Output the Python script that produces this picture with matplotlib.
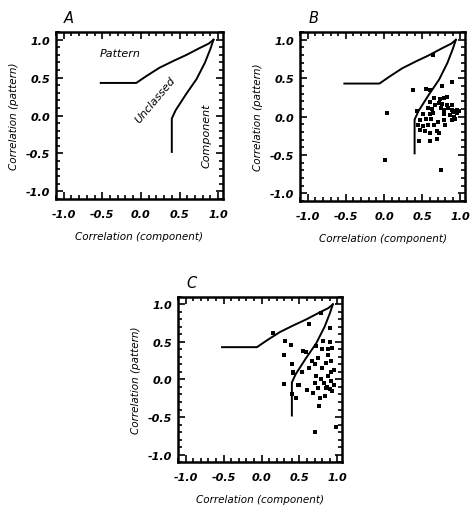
import matplotlib
matplotlib.use("Agg")
import matplotlib.pyplot as plt
from matplotlib.ticker import MultipleLocator
import numpy as np

# Boundary curves (component corr, pattern corr)
pattern_x = [-0.52, -0.06, 0.07, 0.24, 0.42, 0.59, 0.76, 0.88, 0.94]
pattern_y = [0.43, 0.43, 0.52, 0.63, 0.72, 0.80, 0.89, 0.95, 1.0]
component_x = [0.40, 0.40, 0.45, 0.52, 0.59, 0.72, 0.83, 0.90, 0.94]
component_y = [-0.48, -0.04, 0.07, 0.18, 0.29, 0.48, 0.70, 0.88, 1.0]

# Panel B data
b_x = [0.64, 0.38, 0.55, 0.60, 0.76, 0.89, 0.035, 0.006, 0.75, 0.43,
       0.66, 0.73, 0.78, 0.82, 0.60, 0.67, 0.72, 0.76, 0.83, 0.89,
       0.57, 0.63, 0.74, 0.79, 0.84, 0.89, 0.92, 0.95, 0.98,
       0.51, 0.60, 0.64, 0.79, 0.87, 0.91, 0.95, 0.90,
       0.47, 0.55, 0.62, 0.71, 0.79, 0.89, 0.93,
       0.44, 0.51, 0.57, 0.66, 0.80,
       0.47, 0.53, 0.60, 0.69, 0.72,
       0.46, 0.60, 0.69]
b_y = [0.80, 0.35, 0.36, 0.35, 0.40, 0.45, 0.05, -0.56, -0.70, 0.07,
       0.24, 0.23, 0.24, 0.25, 0.185, 0.15, 0.18, 0.16, 0.15, 0.15,
       0.11, 0.10, 0.11, 0.09, 0.11, 0.09, 0.07, 0.09, 0.07,
       0.035, 0.035, 0.04, 0.035, 0.02, 0.0, 0.04, 0.06,
       -0.04, -0.035, -0.035, -0.065, -0.045, -0.045, -0.035,
       -0.11, -0.12, -0.11, -0.11, -0.11,
       -0.17, -0.185, -0.21, -0.185, -0.21,
       -0.32, -0.32, -0.29]

# Panel C data
c_x = [0.15, 0.31, 0.385, 0.29, 0.54, 0.59, 0.63, 0.78, 0.90, 0.90, 0.81,
       0.40, 0.67, 0.41, 0.42, 0.53, 0.63, 0.29, 0.48, 0.50, 0.60, 0.40,
       0.45, 0.76, 0.71, 0.98,
       0.70, 0.75, 0.80, 0.85, 0.88, 0.92, 0.95, 0.72, 0.78, 0.82, 0.88,
       0.92, 0.96, 0.70, 0.75, 0.85, 0.90, 0.93, 0.77, 0.83, 0.68, 0.87,
       0.93, 0.80, 0.72, 0.91, 0.86]
c_y = [0.62, 0.51, 0.456, 0.32, 0.38, 0.37, 0.74, 0.88, 0.68, 0.50, 0.51,
       0.20, 0.25, 0.10, 0.08, 0.10, 0.15, -0.06, -0.07, -0.07, -0.14, -0.20,
       -0.25, -0.35, -0.70, -0.63,
       0.20, 0.28, 0.15, 0.22, 0.33, 0.25, 0.12, 0.05, 0.0, -0.05, 0.05,
       -0.02, -0.08, -0.05, -0.12, -0.12, -0.13, -0.15, -0.25, -0.22, -0.18, 0.40,
       0.42, 0.40, 0.45, 0.10, -0.10]

ticks = [-1.0, -0.5, 0.0, 0.5, 1.0]
tick_labels = ["-1.0", "-0.5", "0.0", "0.5", "1.0"]

plt.rcParams['font.family'] = ['DejaVu Sans']
fig = plt.figure(figsize=(4.74, 5.10), dpi=100)

positions = {
    'A': [0.118, 0.608, 0.352, 0.327],
    'B': [0.633, 0.604, 0.348, 0.331],
    'C': [0.3755, 0.092, 0.346, 0.324],
}

def setup(ax, letter):
    ax.set_xlim(-1.1, 1.06)
    ax.set_ylim(-1.1, 1.1)
    ax.set_xticks(ticks)
    ax.set_yticks(ticks)
    ax.set_xticklabels(tick_labels, fontsize=8, style='italic', weight='semibold')
    ax.set_yticklabels(tick_labels, fontsize=8, style='italic', weight='semibold')
    ax.xaxis.set_minor_locator(MultipleLocator(0.1))
    ax.yaxis.set_minor_locator(MultipleLocator(0.1))
    ax.tick_params(which='both', direction='in', top=True, right=True, width=1.2)
    ax.tick_params(which='major', length=5)
    ax.tick_params(axis='x', which='major', pad=7)
    ax.tick_params(axis='y', which='major', pad=4)
    ax.tick_params(which='minor', length=3)
    for s in ax.spines.values():
        s.set_linewidth(1.8)
    ax.set_xlabel("Correlation (component)", fontsize=7.5, style='italic', labelpad=9)
    ax.set_ylabel("Correlation (pattern)", fontsize=7.5, style='italic', labelpad=5)
    ax.text(0.05, 1.04, letter, transform=ax.transAxes, fontsize=10.5,
            style='italic', ha='left', va='bottom')
    ax.plot(pattern_x, pattern_y, color='black', lw=1.4)
    ax.plot(component_x, component_y, color='black', lw=1.4)

axA = fig.add_axes(positions['A'])
setup(axA, 'A')
axA.text(-0.27, 0.83, "Pattern", fontsize=8, style='italic', ha='center', va='center')
axA.text(0.19, 0.22, "Unclassed", fontsize=8, style='italic', ha='center', va='center', rotation=50)
axA.text(0.85, -0.26, "Component", fontsize=8, style='italic', ha='center', va='center', rotation=90)

axB = fig.add_axes(positions['B'])
setup(axB, 'B')
axB.plot(b_x, b_y, 's', color='black', markersize=2.4, markeredgewidth=0)

axC = fig.add_axes(positions['C'])
setup(axC, 'C')
axC.plot(c_x, c_y, 's', color='black', markersize=2.4, markeredgewidth=0)

fig.savefig("out.png", dpi=100)
